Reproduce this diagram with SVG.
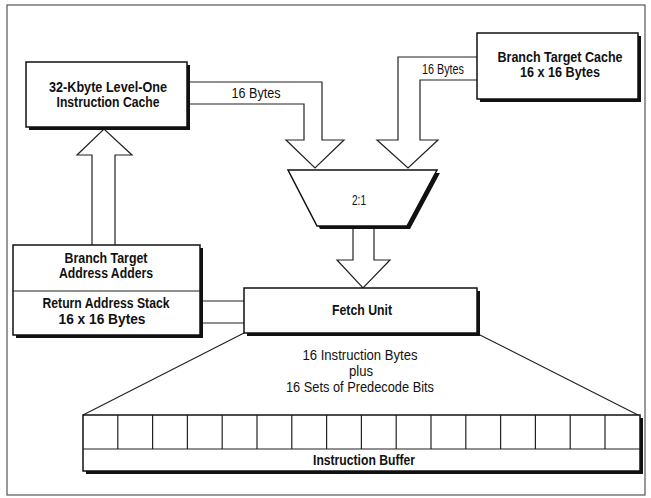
<svg xmlns="http://www.w3.org/2000/svg" width="651" height="498" viewBox="0 0 651 498">
<style>
.box{fill:#fff;stroke:#111;stroke-width:1.5}
.sh{fill:#111}
.ln{fill:none;stroke:#222;stroke-width:1.2}
.ar{fill:#fff;stroke:#222;stroke-width:1.2;stroke-linejoin:miter}
.b{font-family:"Liberation Sans",Arial,sans-serif;font-weight:bold;font-size:14.5px;fill:#111;text-anchor:middle}
.r{font-family:"Liberation Sans",Arial,sans-serif;font-size:14px;fill:#111;text-anchor:middle}
</style>
<rect x="0" y="0" width="651" height="498" fill="#fff"/>
<rect x="7" y="5" width="638" height="490" fill="none" stroke="#555" stroke-width="1.2"/>
<g id="connectors">
<path class="ar" d="M187,82 H322 V140 H344 L315,168 L286,140 H304 V104 H187"/>
<path class="ar" d="M477,57 H398 V140 H377 L408,168 L438,140 H420 V80 H477"/>
<path class="ar" d="M353,227 V260 H337 L363,288 L390,260 H374 V227"/>
<path class="ar" d="M92,245 V155 H77 L104,129 L132,155 H115 V245"/>
<path class="ln" d="M200,301 H244 M200,323 H244"/>
<path class="ln" d="M244,333 L83,415 M478,334 L638,415"/>
</g>
<g id="icache">
<rect class="sh" x="29" y="65" width="161" height="65"/>
<rect class="box" x="26" y="62" width="161" height="65"/>
<text class="b" x="108" y="92" textLength="118" lengthAdjust="spacingAndGlyphs">32-Kbyte Level-One</text>
<text class="b" x="108" y="107" textLength="103" lengthAdjust="spacingAndGlyphs">Instruction Cache</text>
</g>
<g id="btc">
<rect class="sh" x="480" y="36" width="161" height="66"/>
<rect class="box" x="477" y="33" width="161" height="66"/>
<text class="b" x="560" y="62" textLength="125" lengthAdjust="spacingAndGlyphs">Branch Target Cache</text>
<text class="b" x="560" y="77" textLength="80" lengthAdjust="spacingAndGlyphs">16 x 16 Bytes</text>
</g>
<text class="r" x="256" y="98" textLength="49" lengthAdjust="spacingAndGlyphs">16 Bytes</text>
<text class="r" x="443" y="74" textLength="42" lengthAdjust="spacingAndGlyphs">16 Bytes</text>
<g id="mux">
<path class="sh" d="M291,173 H440 L410,229 H320 Z"/>
<path class="box" d="M288,170 H437 L407,226 H317 Z"/>
<text class="r" x="359" y="205" textLength="14" lengthAdjust="spacingAndGlyphs">2:1</text>
</g>
<g id="adders">
<rect class="sh" x="16" y="248" width="187" height="90"/>
<rect class="box" x="13" y="245" width="187" height="90"/>
<line class="ln" x1="13" y1="291" x2="200" y2="291"/>
<text class="b" x="106" y="263" textLength="83" lengthAdjust="spacingAndGlyphs">Branch Target</text>
<text class="b" x="106" y="278" textLength="94" lengthAdjust="spacingAndGlyphs">Address Adders</text>
<text class="b" x="106" y="308" textLength="127" lengthAdjust="spacingAndGlyphs">Return Address Stack</text>
<text class="b" x="102" y="324" textLength="87" lengthAdjust="spacingAndGlyphs">16 x 16 Bytes</text>
</g>
<g id="fetch">
<rect class="sh" x="247" y="291" width="233" height="45"/>
<rect class="box" x="244" y="288" width="233" height="45"/>
<text class="b" x="362" y="315" textLength="60" lengthAdjust="spacingAndGlyphs">Fetch Unit</text>
</g>
<g id="label">
<text class="r" x="360" y="360" textLength="115" lengthAdjust="spacingAndGlyphs">16 Instruction Bytes</text>
<text class="r" x="361" y="376" textLength="24" lengthAdjust="spacingAndGlyphs">plus</text>
<text class="r" x="360" y="392" textLength="148" lengthAdjust="spacingAndGlyphs">16 Sets of Predecode Bits</text>
</g>
<g id="buffer">
<rect class="sh" x="86" y="418" width="557" height="56"/>
<rect class="box" x="83" y="415" width="557" height="56"/>
<line class="ln" x1="83" y1="449" x2="640" y2="449"/>
<path class="ln" d="M117.8,415V449M152.6,415V449M187.4,415V449M222.2,415V449M257,415V449M291.8,415V449M326.6,415V449M361.4,415V449M396.2,415V449M431,415V449M465.8,415V449M500.6,415V449M535.4,415V449M570.2,415V449M605,415V449"/>
<text class="b" x="364" y="465" textLength="102" lengthAdjust="spacingAndGlyphs">Instruction Buffer</text>
</g>
</svg>
